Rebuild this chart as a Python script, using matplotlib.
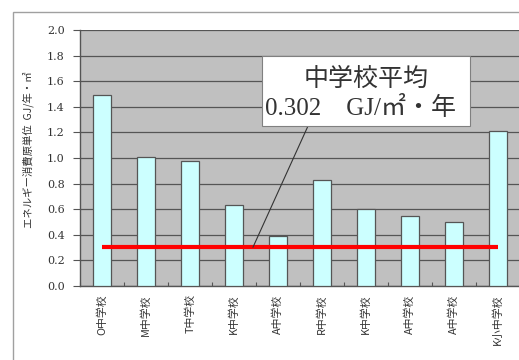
import numpy as np
import matplotlib.pyplot as plt
from matplotlib.patches import Rectangle

plt.rcParams['font.family'] = ['DejaVu Serif', 'Noto Sans CJK JP']

schools = ['O中学校', 'M中学校', 'T中学校', 'K中学校', 'A中学校',
           'R中学校', 'K中学校', 'A中学校', 'A中学校', 'K小中学校']
energy = [1.49, 1.01, 0.98, 0.63, 0.39, 0.83, 0.60, 0.55, 0.50, 1.21]
average = 0.302
yticks = [0.0, 0.2, 0.4, 0.6, 0.8, 1.0, 1.2, 1.4, 1.6, 1.8, 2.0]

W, H = 519, 360
fig = plt.figure(figsize=(W / 100, H / 100), dpi=100)
fig.patch.set_facecolor('white')


def px(x, y):
    # pixel position (from top-left) -> figure fraction
    return x / W, 1 - y / H


# outer frame (runs off the right/bottom edge)
fig.patches.append(Rectangle((13 / W, -0.1), 1.2, 1 - 12 / H + 0.1,
                             transform=fig.transFigure, fill=False,
                             edgecolor='#a0a0a0', linewidth=1.0))

ax = fig.add_axes([80 / W, 1 - 286 / H, 440 / W, 256 / H])
ax.set_facecolor('#c0c0c0')

x = np.arange(len(schools))
ax.set_ylim(0, 2.0)
ax.set_xlim(-0.5, len(schools) - 0.5)
ax.set_yticks(yticks)
ax.set_yticklabels([f'{v:.1f}' for v in yticks], fontsize=8, color='#333333',
                   family=['DejaVu Serif'])
ax.yaxis.grid(True, color='#555555', linewidth=0.9)
ax.set_axisbelow(True)
ax.tick_params(axis='y', direction='out', length=5, width=0.8, color='#555555', pad=6)

ax.bar(x, energy, width=0.4, color='#ccffff', edgecolor='#555555', linewidth=0.9, zorder=3)

ax.set_xticks(x)
ax.set_xticklabels(schools, rotation=90, fontsize=7.8, color='#333333',
                   family=['Noto Sans CJK JP'], va='top')
ax.set_xticks(np.arange(len(schools) + 1) - 0.5, minor=True)
ax.tick_params(axis='x', which='major', length=0, pad=6)
ax.tick_params(axis='x', which='minor', direction='in', length=3, width=0.8, color='#555555')

for s in ['top', 'right']:
    ax.spines[s].set_visible(False)
for s in ['left', 'bottom']:
    ax.spines[s].set_color('#555555')
    ax.spines[s].set_linewidth(1.0)

ax.plot([x[0], x[-1]], [average, average], color='#ff0000', linewidth=3, zorder=4,
        solid_capstyle='butt')

# callout box for the average
bx0, by0 = px(262, 126)
bx1, by1 = px(470, 56)
fig.patches.append(Rectangle((bx0, by0), bx1 - bx0, by1 - by0, transform=fig.transFigure,
                             facecolor='white', edgecolor='#808080', linewidth=0.8,
                             zorder=5))
fig.text(*px(366, 79), '中学校平均', ha='center', va='center', fontsize=18,
         color='#333333', family=['Noto Sans CJK JP'], zorder=6)
fig.text(*px(265, 108), f'{average:.3f}　GJ/㎡・年', ha='left', va='center',
         fontsize=18, color='#333333',
         family=['Liberation Serif', 'Noto Sans CJK JP'], zorder=6)
ax.annotate('', xy=(3.43, average), xytext=px(308, 126), textcoords='figure fraction',
            arrowprops=dict(arrowstyle='-', color='#333333', linewidth=0.8,
                            shrinkA=0, shrinkB=0), zorder=4.5)

fig.text(28 / W, 1 - 150 / H, 'エネルギー消費原単位  GJ/年・㎡', rotation=90,
         ha='center', va='center', fontsize=7.5, color='#333333',
         family=['Noto Sans CJK JP'])

fig.savefig('out.png', dpi=100)
